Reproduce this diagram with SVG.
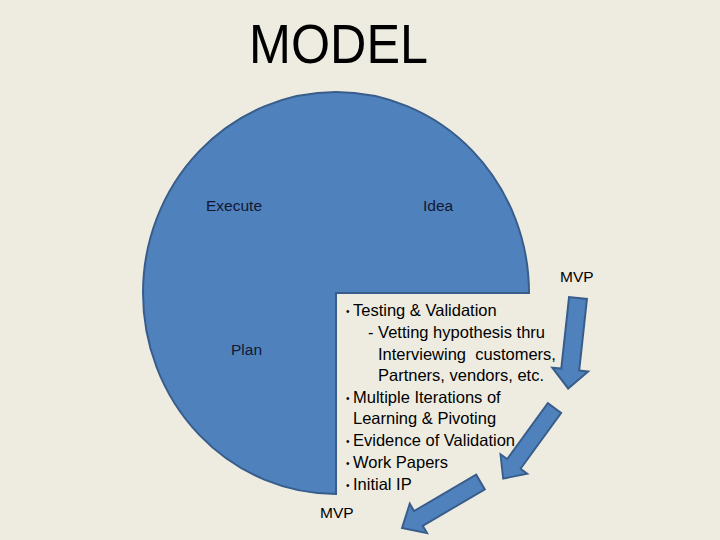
<svg xmlns="http://www.w3.org/2000/svg" xmlns:xlink="http://www.w3.org/1999/xlink" width="720" height="540" viewBox="0 0 720 540">
<style>
.t{font-family:"Liberation Sans",Arial,sans-serif;font-size:16.5px;fill:#000}
.m{font-family:"Liberation Sans",Arial,sans-serif;font-size:15.5px;fill:#000}
.lbl{font-family:"Liberation Sans",Arial,sans-serif;font-size:15.5px;fill:#121833}
.arrow{fill:#4F81BD;stroke:#385D8A;stroke-width:2;stroke-linejoin:miter}
.b{font-size:10px}
</style>
<defs>
<polygon id="blk" points="0,-9 72,-9 72,-18 91,0 72,18 72,9 0,9"/>
</defs>
<rect width="720" height="540" fill="#EEECE1"/>
<g id="title">
<text x="249" y="63" font-family="'Liberation Sans',Arial,sans-serif" font-size="56" textLength="179" lengthAdjust="spacingAndGlyphs" fill="#000">MODEL</text>
</g>
<g id="pie">
<path d="M336,293 L529,293 A193,201 0 1,0 336,494 Z" fill="#4F81BD" stroke="#385D8A" stroke-width="2"/>
<text class="lbl" x="206" y="211">Execute</text>
<text class="lbl" x="423" y="211">Idea</text>
<text class="lbl" x="231" y="355">Plan</text>
</g>
<g id="mvp-top"><text class="m" x="560" y="282">MVP</text></g>
<g id="mvp-bottom"><text class="m" x="320" y="518">MVP</text></g>
<g id="details">
<text class="t" x="346" y="315"><tspan class="b">•</tspan><tspan x="353" y="316">Testing &amp; Validation</tspan></text>
<text class="t" x="368" y="338">- Vetting hypothesis thru</text>
<text class="t" x="378" y="360" xml:space="preserve">Interviewing  customers,</text>
<text class="t" x="378" y="381">Partners, vendors, etc.</text>
<text class="t" x="346" y="402"><tspan class="b">•</tspan><tspan x="353" y="403">Multiple Iterations of</tspan></text>
<text class="t" x="353" y="424">Learning &amp; Pivoting</text>
<text class="t" x="346" y="445"><tspan class="b">•</tspan><tspan x="353" y="446">Evidence of Validation</tspan></text>
<text class="t" x="346" y="467"><tspan class="b">•</tspan><tspan x="353" y="468">Work Papers</tspan></text>
<text class="t" x="346" y="489"><tspan class="b">•</tspan><tspan x="353" y="490">Initial IP</tspan></text>
</g>
<g id="connectors">
<use xlink:href="#blk" class="arrow" transform="translate(578,298) rotate(96.2)"/>
<use xlink:href="#blk" class="arrow" transform="translate(554.5,408) rotate(126) scale(0.96,0.92)"/>
<use xlink:href="#blk" class="arrow" transform="translate(480.5,482) rotate(149.6) scale(1,0.95)"/>
</g>
</svg>
